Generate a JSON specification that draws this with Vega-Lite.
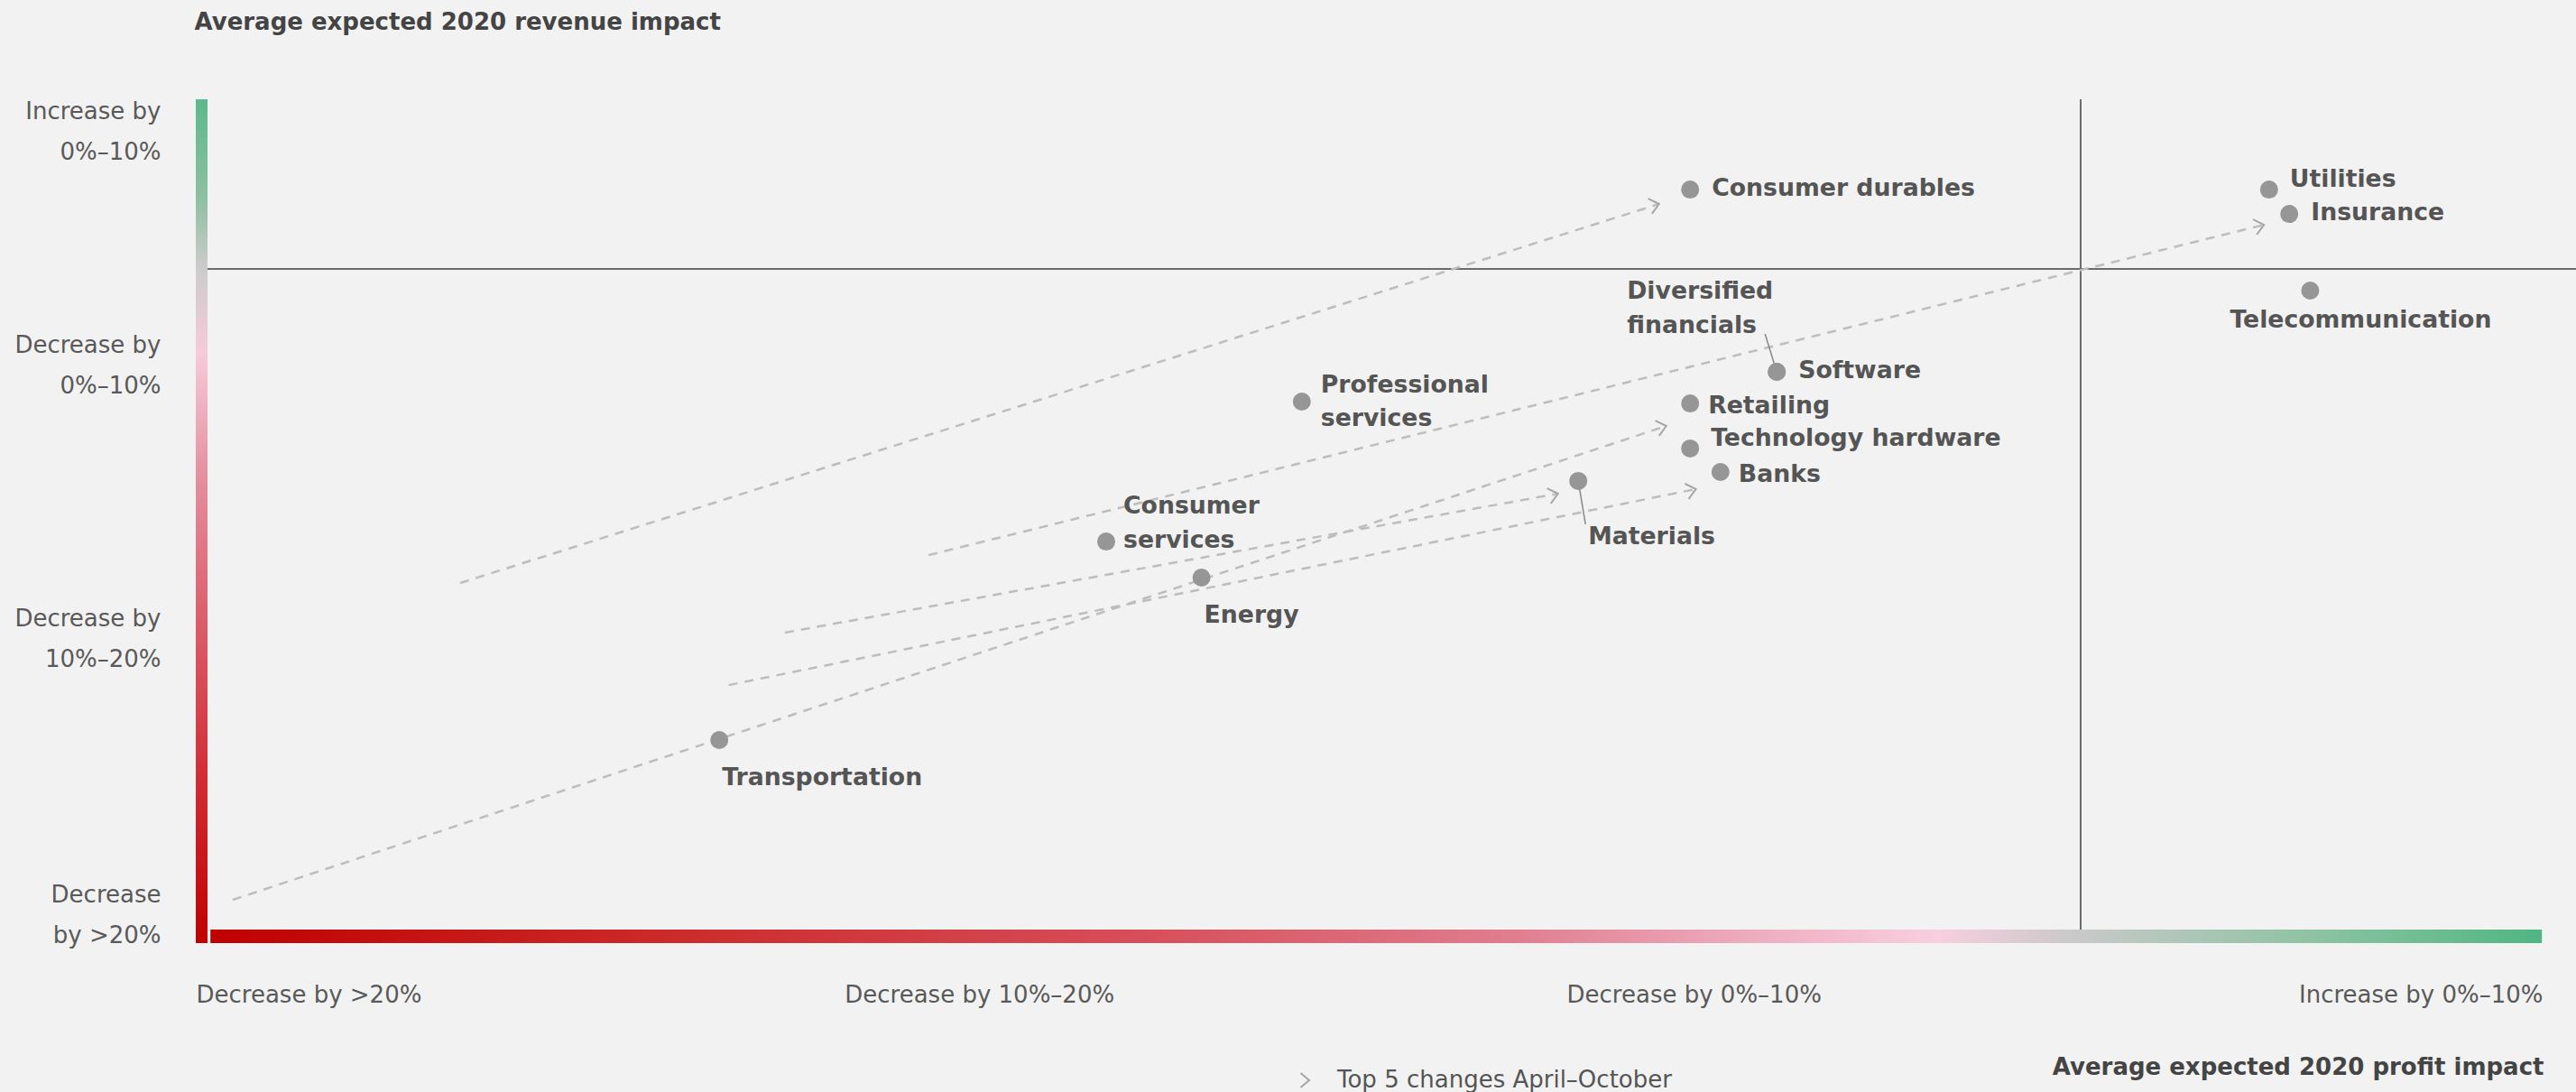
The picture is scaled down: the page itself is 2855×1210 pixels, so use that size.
{
  "$schema": "https://vega.github.io/schema/vega-lite/v6.json",
  "width": 2601,
  "height": 935,
  "autosize": {"type": "none"},
  "padding": {"left": 217, "top": 110, "right": 37, "bottom": 165},
  "background": "#f2f2f2",
  "config": {"view": {"stroke": null}, "font": "DejaVu Sans"},
  "datasets": {
    "sectors": [
      {"sector": "Consumer durables", "profit": -5.41, "revenue": 2.93},
      {"sector": "Utilities", "profit": 2.61, "revenue": 2.93},
      {"sector": "Insurance", "profit": 2.89, "revenue": 2.03},
      {"sector": "Telecommunication", "profit": 3.18, "revenue": -0.8},
      {"sector": "Diversified financials", "profit": -4.21, "revenue": -3.8},
      {"sector": "Software", "profit": -4.21, "revenue": -3.8},
      {"sector": "Retailing", "profit": -5.41, "revenue": -4.97},
      {"sector": "Technology hardware", "profit": -5.41, "revenue": -6.63},
      {"sector": "Banks", "profit": -4.99, "revenue": -7.5},
      {"sector": "Materials", "profit": -6.96, "revenue": -7.83},
      {"sector": "Professional services", "profit": -10.79, "revenue": -4.9},
      {"sector": "Consumer services", "profit": -13.5, "revenue": -10.07},
      {"sector": "Energy", "profit": -12.18, "revenue": -11.4},
      {"sector": "Transportation", "profit": -18.86, "revenue": -17.4}
    ],
    "arrows": [
      {"sector": "Consumer durables", "fromProfit": -22.45, "fromRevenue": -11.6, "toProfit": -5.84, "toRevenue": 2.4},
      {"sector": "Insurance", "fromProfit": -15.96, "fromRevenue": -10.57, "toProfit": 2.54, "toRevenue": 1.63},
      {"sector": "Retailing", "fromProfit": -25.6, "fromRevenue": -23.3, "toProfit": -5.74, "toRevenue": -5.8},
      {"sector": "Materials", "fromProfit": -17.95, "fromRevenue": -13.43, "toProfit": -7.24, "toRevenue": -8.3},
      {"sector": "Banks", "fromProfit": -18.73, "fromRevenue": -15.37, "toProfit": -5.33, "toRevenue": -8.13}
    ]
  },
  "layer": [
    {
      "data": {"name": "sectors"},
      "mark": {"type": "point", "filled": true, "color": "#969696", "size": 400, "opacity": 0},
      "encoding": {
        "x": {"field": "profit", "type": "quantitative", "scale": {"domain": [-26.1125, 6.4], "nice": false, "zero": false},
          "axis": {"values": [-26.1125, -15.26, -5.36, 6.4], "labelExpr": "datum.value < -20 ? 'Decrease by >20%' : datum.value < -10 ? 'Decrease by 10%–20%' : datum.value < 0 ? 'Decrease by 0%–10%' : 'Increase by 0%–10%'",
            "labelFlush": true, "labelFlushOffset": 0, "labelOverlap": false, "labelBound": false, "labelLimit": 0, "domain": false, "ticks": false, "tickSize": 0, "grid": false,
            "labelFont": "DejaVu Sans", "labelFontSize": 26, "labelColor": "#595959", "labelPadding": 44,
            "title": "Average expected 2020 profit impact", "titleFont": "DejaVu Sans", "titleFontSize": 26, "titleFontWeight": "bold", "titleColor": "#444444", "titleLimit": 0,
            "titleX": 2602, "titleY": 137, "titleAlign": "right", "titleBaseline": "middle", "titleAnchor": "end"}},
        "y": {"field": "revenue", "type": "quantitative", "scale": {"domain": [-24.9, 6.2667], "nice": false, "zero": false},
          "axis": {"values": [5.833, -2.833, -12.933, -23.1], "labelExpr": "datum.value > 0 ? ['Increase by', '0%–10%'] : datum.value > -10 ? ['Decrease by', '0%–10%'] : datum.value > -20 ? ['Decrease by', '10%–20%'] : ['Decrease', 'by >20%']",
            "labelAlign": "right", "labelBaseline": "middle", "labelLineHeight": 45, "labelOverlap": false, "labelBound": false, "labelLimit": 0, "domain": false, "ticks": false, "tickSize": 0, "grid": false,
            "labelFont": "DejaVu Sans", "labelFontSize": 26, "labelColor": "#595959", "labelPadding": 39,
            "title": "Average expected 2020 revenue impact", "titleFont": "DejaVu Sans", "titleFontSize": 26, "titleFontWeight": "bold", "titleColor": "#444444", "titleLimit": 0,
            "titleAngle": 0, "titleX": -2, "titleY": -86, "titleAlign": "left", "titleBaseline": "middle"}}
      }
    },
    {
      "data": {"values": [{}]},
      "mark": {"type": "rect", "color": {"gradient": "linear", "x1": 0, "y1": 0, "x2": 0, "y2": 1, "stops": [
        {"offset": 0, "color": "#5cb98b"},
        {"offset": 0.12, "color": "#8fc0a2"},
        {"offset": 0.2, "color": "#cccccc"},
        {"offset": 0.3, "color": "#f6cbda"},
        {"offset": 0.45, "color": "#e48e9e"},
        {"offset": 0.62, "color": "#dc5d6a"},
        {"offset": 0.8, "color": "#d22e36"},
        {"offset": 1, "color": "#c00000"}
      ]}},
      "encoding": {
        "x": {"datum": -26.1125, "type": "quantitative", "scale": {"domain": [-26.1125, 6.4], "nice": false, "zero": false}},
        "x2": {"datum": -25.95},
        "y": {"datum": 6.2667, "type": "quantitative", "scale": {"domain": [-24.9, 6.2667], "nice": false, "zero": false}},
        "y2": {"datum": -24.9}
      }
    },
    {
      "data": {"values": [{}]},
      "mark": {"type": "rect", "color": {"gradient": "linear", "x1": 0, "y1": 0, "x2": 1, "y2": 0, "stops": [
        {"offset": 0, "color": "#c00000"},
        {"offset": 0.2, "color": "#cc2b2b"},
        {"offset": 0.4, "color": "#d74e5a"},
        {"offset": 0.56, "color": "#e07e8f"},
        {"offset": 0.67, "color": "#efb0c3"},
        {"offset": 0.74, "color": "#f8cfdf"},
        {"offset": 0.8, "color": "#c9c9c9"},
        {"offset": 0.9, "color": "#8fc3a3"},
        {"offset": 1, "color": "#4fb683"}
      ]}},
      "encoding": {
        "x": {"datum": -25.91, "type": "quantitative", "scale": {"domain": [-26.1125, 6.4], "nice": false, "zero": false}},
        "x2": {"datum": 6.39},
        "y": {"datum": -24.4, "type": "quantitative", "scale": {"domain": [-24.9, 6.2667], "nice": false, "zero": false}},
        "y2": {"datum": -24.9}
      }
    },
    {
      "data": {"values": [{}]},
      "mark": {"type": "rule", "color": "#6b6b6b", "strokeWidth": 2},
      "encoding": {
        "x": {"datum": -25.95, "type": "quantitative", "scale": {"domain": [-26.1125, 6.4], "nice": false, "zero": false}},
        "x2": {"datum": 6.8625},
        "y": {"datum": 0, "type": "quantitative", "scale": {"domain": [-24.9, 6.2667], "nice": false, "zero": false}}
      }
    },
    {
      "data": {"values": [{}]},
      "mark": {"type": "rule", "color": "#6b6b6b", "strokeWidth": 2},
      "encoding": {
        "x": {"datum": 0, "type": "quantitative", "scale": {"domain": [-26.1125, 6.4], "nice": false, "zero": false}},
        "y": {"datum": 6.2667, "type": "quantitative", "scale": {"domain": [-24.9, 6.2667], "nice": false, "zero": false}},
        "y2": {"datum": -24.4}
      }
    },
    {
      "data": {"name": "arrows"},
      "mark": {"type": "rule", "color": "#bdbdbd", "strokeWidth": 2.5, "strokeDash": [10, 8]},
      "encoding": {
        "x": {"field": "fromProfit", "type": "quantitative", "scale": {"domain": [-26.1125, 6.4], "nice": false, "zero": false}},
        "y": {"field": "fromRevenue", "type": "quantitative", "scale": {"domain": [-24.9, 6.2667], "nice": false, "zero": false}},
        "x2": {"field": "toProfit"},
        "y2": {"field": "toRevenue"}
      }
    },
    {
      "data": {"name": "arrows"},
      "mark": {"type": "point", "filled": false, "shape": "M-1.406,-0.680L0,0L-0.922,1.260", "size": 300, "strokeWidth": 2, "opacity": 1},
      "encoding": {
        "x": {"field": "toProfit", "type": "quantitative", "scale": {"domain": [-26.1125, 6.4], "nice": false, "zero": false}},
        "y": {"field": "toRevenue", "type": "quantitative", "scale": {"domain": [-24.9, 6.2667], "nice": false, "zero": false}},
        "color": {"datum": "Top 5 changes April–October", "type": "nominal", "scale": {"range": ["#a6a6a6"]},
          "legend": {"title": null, "orient": "none", "legendX": 1221, "legendY": 1074, "symbolType": "M-1.2,-1L0,0L-1.2,1", "symbolSize": 250, "symbolStrokeWidth": 2, "labelFont": "DejaVu Sans", "labelFontSize": 26, "labelColor": "#555555", "labelOffset": 18, "labelLimit": 0, "padding": 0}}
      }
    },
    {
      "data": {"name": "sectors"},
      "transform": [{"filter": {"field": "sector", "equal": "Materials"}}],
      "mark": {"type": "rule", "color": "#888888", "strokeWidth": 1.5, "x2Offset": 8, "y2Offset": 48},
      "encoding": {
        "x": {"field": "profit", "type": "quantitative", "scale": {"domain": [-26.1125, 6.4], "nice": false, "zero": false}},
        "y": {"field": "revenue", "type": "quantitative", "scale": {"domain": [-24.9, 6.2667], "nice": false, "zero": false}},
        "x2": {"field": "profit"},
        "y2": {"field": "revenue"}
      }
    },
    {
      "data": {"name": "sectors"},
      "transform": [{"filter": {"field": "sector", "equal": "Diversified financials"}}],
      "mark": {"type": "rule", "color": "#888888", "strokeWidth": 1.5, "x2Offset": -13, "y2Offset": -42},
      "encoding": {
        "x": {"field": "profit", "type": "quantitative", "scale": {"domain": [-26.1125, 6.4], "nice": false, "zero": false}},
        "y": {"field": "revenue", "type": "quantitative", "scale": {"domain": [-24.9, 6.2667], "nice": false, "zero": false}},
        "x2": {"field": "profit"},
        "y2": {"field": "revenue"}
      }
    },
    {
      "data": {"name": "sectors"},
      "mark": {"type": "point", "filled": true, "color": "#969696", "size": 400, "opacity": 1},
      "encoding": {
        "x": {"field": "profit", "type": "quantitative", "scale": {"domain": [-26.1125, 6.4], "nice": false, "zero": false}},
        "y": {"field": "revenue", "type": "quantitative", "scale": {"domain": [-24.9, 6.2667], "nice": false, "zero": false}}
      }
    },
    {
      "data": {"name": "sectors"},
      "transform": [{"filter": {"field": "sector", "oneOf": ["Consumer durables", "Software", "Insurance"]}}],
      "mark": {"type": "text", "align": "left", "baseline": "middle", "dx": 24, "dy": -1, "font": "DejaVu Sans", "fontWeight": "bold", "fontSize": 26.7, "color": "#555555"},
      "encoding": {
        "x": {"field": "profit", "type": "quantitative", "scale": {"domain": [-26.1125, 6.4], "nice": false, "zero": false}},
        "y": {"field": "revenue", "type": "quantitative", "scale": {"domain": [-24.9, 6.2667], "nice": false, "zero": false}},
        "text": {"field": "sector"}
      }
    },
    {
      "data": {"name": "sectors"},
      "transform": [{"filter": {"field": "sector", "oneOf": ["Banks", "Retailing"]}}],
      "mark": {"type": "text", "align": "left", "baseline": "middle", "dx": 20, "dy": 3, "font": "DejaVu Sans", "fontWeight": "bold", "fontSize": 26.7, "color": "#555555"},
      "encoding": {
        "x": {"field": "profit", "type": "quantitative", "scale": {"domain": [-26.1125, 6.4], "nice": false, "zero": false}},
        "y": {"field": "revenue", "type": "quantitative", "scale": {"domain": [-24.9, 6.2667], "nice": false, "zero": false}},
        "text": {"field": "sector"}
      }
    },
    {
      "data": {"name": "sectors"},
      "transform": [{"filter": {"field": "sector", "oneOf": ["Technology hardware", "Utilities"]}}],
      "mark": {"type": "text", "align": "left", "baseline": "middle", "dx": 23, "dy": -11, "font": "DejaVu Sans", "fontWeight": "bold", "fontSize": 26.7, "color": "#555555"},
      "encoding": {
        "x": {"field": "profit", "type": "quantitative", "scale": {"domain": [-26.1125, 6.4], "nice": false, "zero": false}},
        "y": {"field": "revenue", "type": "quantitative", "scale": {"domain": [-24.9, 6.2667], "nice": false, "zero": false}},
        "text": {"field": "sector"}
      }
    },
    {
      "data": {"name": "sectors"},
      "transform": [{"filter": {"field": "sector", "equal": "Telecommunication"}}],
      "mark": {"type": "text", "align": "center", "baseline": "middle", "dx": 56, "dy": 33, "font": "DejaVu Sans", "fontWeight": "bold", "fontSize": 26.7, "color": "#555555"},
      "encoding": {
        "x": {"field": "profit", "type": "quantitative", "scale": {"domain": [-26.1125, 6.4], "nice": false, "zero": false}},
        "y": {"field": "revenue", "type": "quantitative", "scale": {"domain": [-24.9, 6.2667], "nice": false, "zero": false}},
        "text": {"field": "sector"}
      }
    },
    {
      "data": {"name": "sectors"},
      "transform": [{"filter": {"field": "sector", "equal": "Diversified financials"}}],
      "mark": {"type": "text", "align": "left", "baseline": "middle", "lineBreak": " ", "lineHeight": 38, "dx": -166, "dy": -89, "font": "DejaVu Sans", "fontWeight": "bold", "fontSize": 26.7, "color": "#555555"},
      "encoding": {
        "x": {"field": "profit", "type": "quantitative", "scale": {"domain": [-26.1125, 6.4], "nice": false, "zero": false}},
        "y": {"field": "revenue", "type": "quantitative", "scale": {"domain": [-24.9, 6.2667], "nice": false, "zero": false}},
        "text": {"field": "sector"}
      }
    },
    {
      "data": {"name": "sectors"},
      "transform": [{"filter": {"field": "sector", "equal": "Professional services"}}],
      "mark": {"type": "text", "align": "left", "baseline": "middle", "lineBreak": " ", "lineHeight": 37, "dx": 21, "dy": -18, "font": "DejaVu Sans", "fontWeight": "bold", "fontSize": 26.7, "color": "#555555"},
      "encoding": {
        "x": {"field": "profit", "type": "quantitative", "scale": {"domain": [-26.1125, 6.4], "nice": false, "zero": false}},
        "y": {"field": "revenue", "type": "quantitative", "scale": {"domain": [-24.9, 6.2667], "nice": false, "zero": false}},
        "text": {"field": "sector"}
      }
    },
    {
      "data": {"name": "sectors"},
      "transform": [{"filter": {"field": "sector", "equal": "Consumer services"}}],
      "mark": {"type": "text", "align": "left", "baseline": "middle", "lineBreak": " ", "lineHeight": 38, "dx": 19, "dy": -39, "font": "DejaVu Sans", "fontWeight": "bold", "fontSize": 26.7, "color": "#555555"},
      "encoding": {
        "x": {"field": "profit", "type": "quantitative", "scale": {"domain": [-26.1125, 6.4], "nice": false, "zero": false}},
        "y": {"field": "revenue", "type": "quantitative", "scale": {"domain": [-24.9, 6.2667], "nice": false, "zero": false}},
        "text": {"field": "sector"}
      }
    },
    {
      "data": {"name": "sectors"},
      "transform": [{"filter": {"field": "sector", "oneOf": ["Energy", "Transportation"]}}],
      "mark": {"type": "text", "align": "left", "baseline": "middle", "dx": 3, "dy": 42, "font": "DejaVu Sans", "fontWeight": "bold", "fontSize": 26.7, "color": "#555555"},
      "encoding": {
        "x": {"field": "profit", "type": "quantitative", "scale": {"domain": [-26.1125, 6.4], "nice": false, "zero": false}},
        "y": {"field": "revenue", "type": "quantitative", "scale": {"domain": [-24.9, 6.2667], "nice": false, "zero": false}},
        "text": {"field": "sector"}
      }
    },
    {
      "data": {"name": "sectors"},
      "transform": [{"filter": {"field": "sector", "equal": "Materials"}}],
      "mark": {"type": "text", "align": "left", "baseline": "middle", "dx": 11, "dy": 62, "font": "DejaVu Sans", "fontWeight": "bold", "fontSize": 26.7, "color": "#555555"},
      "encoding": {
        "x": {"field": "profit", "type": "quantitative", "scale": {"domain": [-26.1125, 6.4], "nice": false, "zero": false}},
        "y": {"field": "revenue", "type": "quantitative", "scale": {"domain": [-24.9, 6.2667], "nice": false, "zero": false}},
        "text": {"field": "sector"}
      }
    }
  ]
}
